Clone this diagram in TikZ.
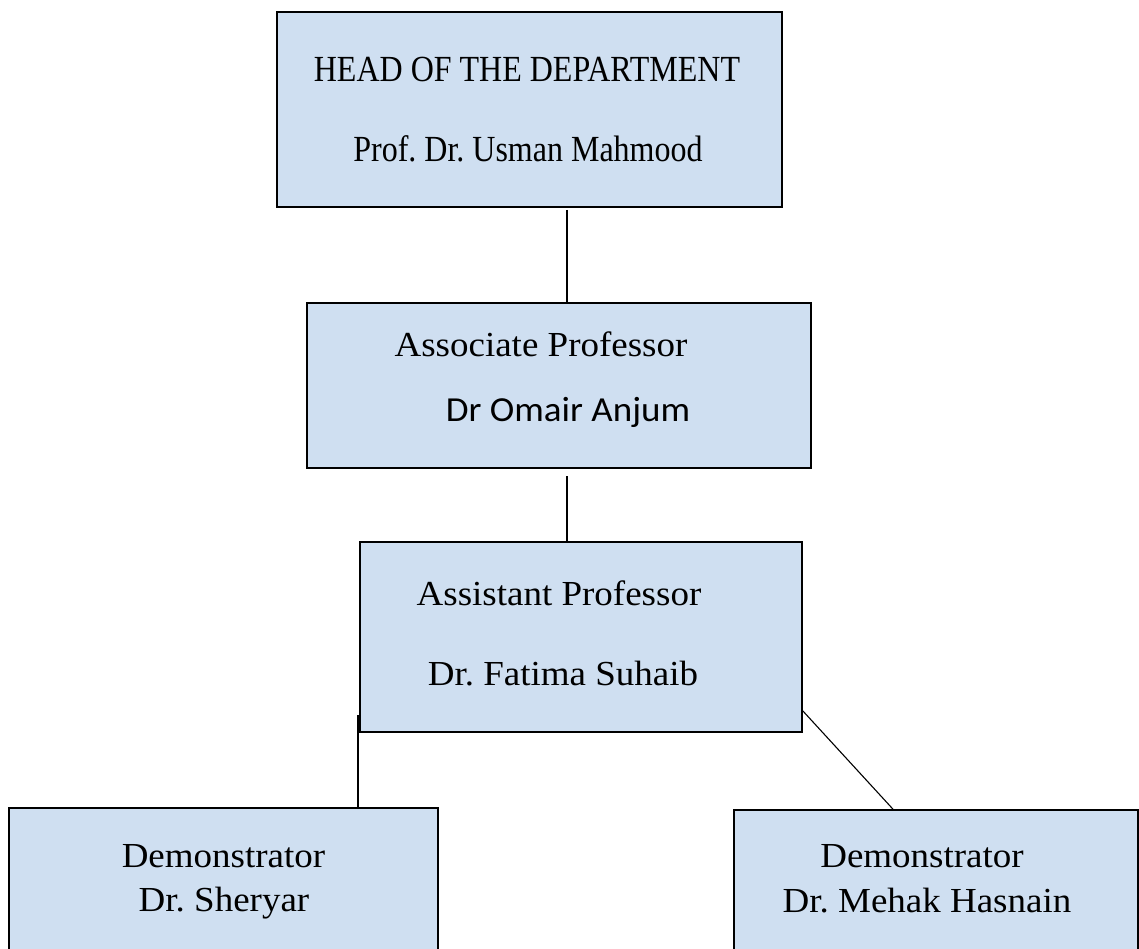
\documentclass[tikz,border=0pt]{standalone}
\usepackage{fontspec}
\setmainfont{Liberation Serif}
\newfontfamily\calibri{Carlito}
\frenchspacing
\definecolor{boxblue}{RGB}{207,223,241}
\newcommand{\talltext}[1]{\scalebox{1}[1.15]{#1}}
\newcommand{\lowtext}[1]{\scalebox{1}[0.95]{#1}}
\tikzset{
  post/.style={draw, line width=1.6pt, fill=boxblue, rectangle, inner sep=0pt},
  txt/.style={anchor=base, inner sep=0pt, font=\fontsize{37}{44}\selectfont},
  link/.style={line width=1.1pt}
}

\begin{document}
\begin{tikzpicture}[x=1pt, y=-1pt]
    \useasboundingbox (0,0) rectangle (1139,949);
    \clip (0,0) rectangle (1139,949);
    % Boxes
    \node[post, minimum width=505pt, minimum height=195pt] (head) at (529.5,109.5) {};
    \node[post, minimum width=504pt, minimum height=165pt] (assoc) at (559,385.5) {};
    \node[post, minimum width=442pt, minimum height=190pt] (asst) at (581,637) {};
    \node[post, minimum width=429pt, minimum height=182pt] (sher) at (223.5,899) {};
    \node[post, minimum width=404pt, minimum height=180pt] (mehak) at (936,900) {};
    % Texts
    \node[txt, font=\fontsize{32}{38}\selectfont] (headtitle) at (527,82) {\talltext{HEAD OF THE DEPARTMENT}};
    \node[txt, font=\fontsize{32}{38}\selectfont] (headname) at (528,162) {\talltext{Prof. Dr. Usman Mahmood}};
    \node[txt] (assoctitle) at (541,356) {\lowtext{Associate Professor}};
    \node[txt, font=\calibri\fontsize{37}{44}\selectfont] (assocname) at (568,421) {\lowtext{Dr Omair Anjum}};
    \node[txt] (assttitle) at (559,605) {\lowtext{Assistant Professor}};
    \node[txt] (asstname) at (563,685) {\lowtext{Dr. Fatima Suhaib}};
    \node[txt] (shertitle) at (223.5,867) {\lowtext{Demonstrator}};
    \node[txt] (shername) at (224,911) {\lowtext{Dr. Sheryar}};
    \node[txt] (mehaktitle) at (922,867) {\lowtext{Demonstrator}};
    \node[txt] (mehakname) at (927,912) {\lowtext{Dr. Mehak Hasnain}};
    % Links
    \coordinate (l1) at (567,210);
    \coordinate (l2) at (567,476);
    \coordinate (l3) at (358,715);
    \coordinate (l4) at (802,710);
    \coordinate (l5) at (893,0);
    \draw[link] (l1) -- (l1 |- assoc.north);
    \draw[link] (l2) -- (l2 |- asst.north);
    \draw[link] (l3) -- (l3 |- sher.north);
    \draw[link] (l4) -- (l5 |- mehak.north);
\end{tikzpicture}
\end{document}
